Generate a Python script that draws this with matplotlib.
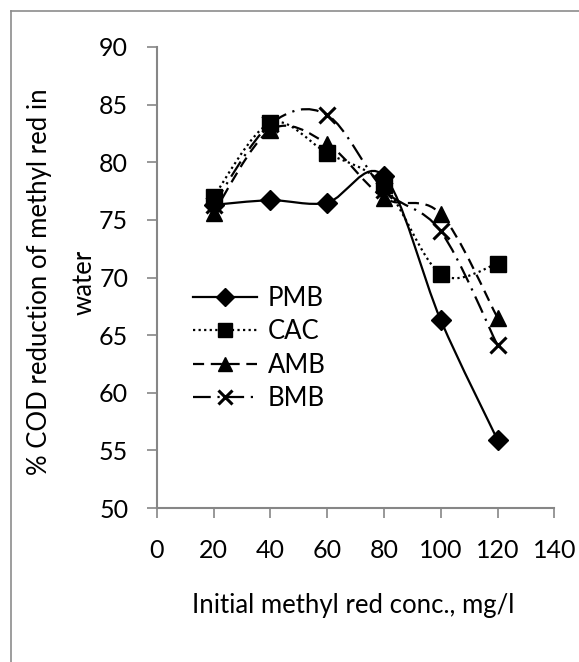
import matplotlib
matplotlib.use("Agg")
import matplotlib.pyplot as plt
from matplotlib.path import Path
from matplotlib.patches import PathPatch
from matplotlib.lines import Line2D
import numpy as np

plt.rcParams['font.family'] = ['Lato', 'DejaVu Sans']

x_conc = [20, 40, 60, 80, 100, 120]
series_names = ["PMB", "CAC", "AMB", "BMB"]
pmb = [76.3, 76.7, 76.5, 78.8, 66.3, 55.9]
cac = [77.0, 83.4, 80.8, 78.0, 70.3, 71.2]
amb = [75.6, 82.8, 81.6, 76.9, 75.5, 66.5]
bmb = [76.3, 83.3, 84.1, 77.6, 74.0, 64.1]

x_ticks = [0, 20, 40, 60, 80, 100, 120, 140]
y_ticks = [50, 55, 60, 65, 70, 75, 80, 85, 90]

W, H = 579, 662
fig = plt.figure(figsize=(W / 100, H / 100), dpi=100)
fig.patch.set_facecolor('white')

# outer border (only left & top visible)
fig.add_artist(Line2D([11 / W, 11 / W], [0, 1 - 11 / H], transform=fig.transFigure,
                      color='#8c8c8c', lw=1.2))
fig.add_artist(Line2D([11 / W, 1], [1 - 11 / H, 1 - 11 / H], transform=fig.transFigure,
                      color='#8c8c8c', lw=1.2))

ax_l, ax_r = 156.7, 554.4
ax_t, ax_b = 47, 508
ax = fig.add_axes([ax_l / W, 1 - ax_b / H, (ax_r - ax_l) / W, (ax_b - ax_t) / H])
ax.set_xlim(0, 140)
ax.set_ylim(50, 90)

axis_col = '#868686'
for s in ['top', 'right']:
    ax.spines[s].set_visible(False)
for s in ['left', 'bottom']:
    ax.spines[s].set_color(axis_col)
    ax.spines[s].set_linewidth(1.5)

ax.set_xticks(x_ticks)
ax.set_yticks(y_ticks)
ax.tick_params(axis='both', colors=axis_col, width=1.2, length=7.5, labelsize=18,
               labelcolor='black')
ax.tick_params(axis='x', pad=15)
ax.tick_params(axis='y', pad=13)


def smooth_path(xs, ys):
    pts = np.column_stack([xs, ys]).astype(float)
    n = len(pts)
    verts = [pts[0]]
    codes = [Path.MOVETO]
    for i in range(n - 1):
        p0 = pts[i - 1] if i > 0 else pts[i]
        p1 = pts[i]
        p2 = pts[i + 1]
        p3 = pts[i + 2] if i + 2 < n else pts[i + 1]
        c1 = p1 + (p2 - p0) / 6.0
        c2 = p2 - (p3 - p1) / 6.0
        verts += [c1, c2, p2]
        codes += [Path.CURVE4] * 3
    return Path(verts, codes)


styles = [
    dict(ls='-', marker='D', ms=10.5),
    dict(ls=(0, (1, 1.5)), marker='s', ms=11.5),
    dict(ls=(0, (5, 3)), marker='^', ms=11),
    dict(ls=(0, (8, 3, 1, 3)), marker='x', ms=11),
]
data = [pmb, cac, amb, bmb]
handles = []
for name, ys, st in zip(series_names, data, styles):
    patch = PathPatch(smooth_path(x_conc, ys), fill=False, edgecolor='black',
                      lw=1.6, linestyle=st['ls'], zorder=3, capstyle='butt')
    ax.add_patch(patch)
    mew = 2.2 if st['marker'] == 'x' else 1.0
    ax.plot(x_conc, ys, linestyle='none', marker=st['marker'], ms=st['ms'],
            color='black', mew=mew, zorder=4)
    handles.append(Line2D([], [], color='black', lw=1.6, linestyle=st['ls'],
                          marker=st['marker'], ms=st['ms'] * 0.9, mew=mew, label=name))

leg = ax.legend(handles=handles, loc='upper left',
                bbox_to_anchor=((193 - ax_l) / (ax_r - ax_l), (ax_b - 286) / (ax_b - ax_t)),
                frameon=False, fontsize=18.5, handlelength=2.5, handletextpad=0.4,
                labelspacing=0.33, borderaxespad=0, borderpad=0)

ax.set_xlabel("Initial methyl red conc., mg/l", fontsize=18.5)
ax.xaxis.set_label_coords(0.495, -(605 - ax_b) / (ax_b - ax_t))
ax.xaxis.label.set_va('center')

ax.set_ylabel("% COD reduction of methyl red in\nwater", fontsize=18.5, linespacing=2.0,
              multialignment='center')
ax.yaxis.set_label_coords(-(ax_l - 62) / (ax_r - ax_l), 0.49)
ax.yaxis.label.set_va('center')

fig.savefig("out.png", dpi=100, facecolor='white')
